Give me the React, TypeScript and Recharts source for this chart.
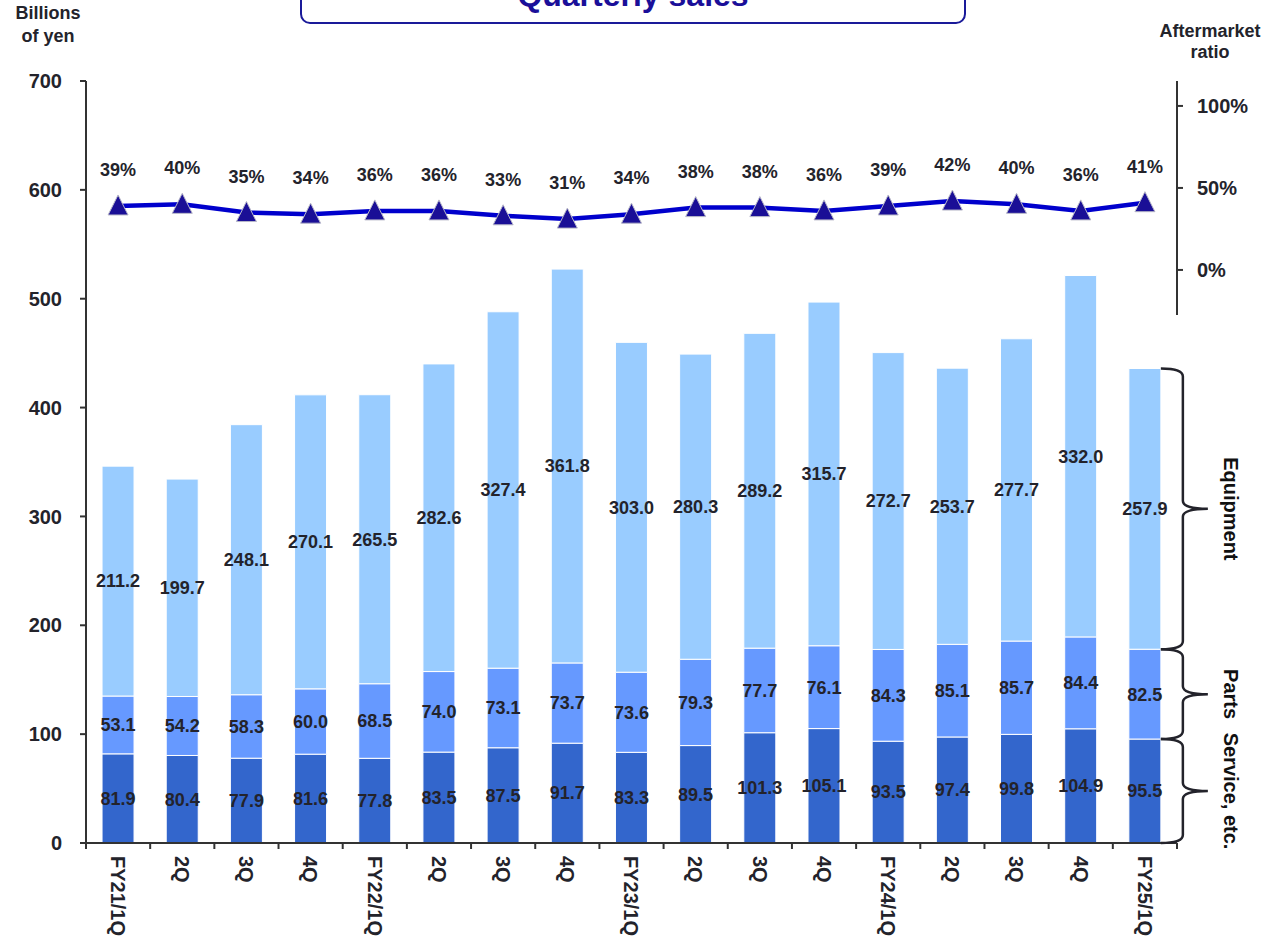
import React from "react";
import {
  ComposedChart,
  Bar,
  Line,
  XAxis,
  YAxis,
  LabelList,
} from "recharts";

const quarters = [
  "FY21/1Q", "2Q", "3Q", "4Q",
  "FY22/1Q", "2Q", "3Q", "4Q",
  "FY23/1Q", "2Q", "3Q", "4Q",
  "FY24/1Q", "2Q", "3Q", "4Q",
  "FY25/1Q",
];
const service = [81.9, 80.4, 77.9, 81.6, 77.8, 83.5, 87.5, 91.7, 83.3, 89.5, 101.3, 105.1, 93.5, 97.4, 99.8, 104.9, 95.5];
const parts = [53.1, 54.2, 58.3, 60.0, 68.5, 74.0, 73.1, 73.7, 73.6, 79.3, 77.7, 76.1, 84.3, 85.1, 85.7, 84.4, 82.5];
const equipment = [211.2, 199.7, 248.1, 270.1, 265.5, 282.6, 327.4, 361.8, 303.0, 280.3, 289.2, 315.7, 272.7, 253.7, 277.7, 332.0, 257.9];
const ratio = [39, 40, 35, 34, 36, 36, 33, 31, 34, 38, 38, 36, 39, 42, 40, 36, 41];

const leftTicks = [0, 100, 200, 300, 400, 500, 600, 700];
const rightTicks = [0, 50, 100];

const data = quarters.map((q, i) => ({
  q,
  service: service[i],
  parts: parts[i],
  equipment: equipment[i],
  ratio: ratio[i],
}));

const FONT = "'Liberation Sans', Arial, sans-serif";
const TXT = "#23232b";
const W = 1265;
const H = 947;
const PLOT_LEFT = 86;
const PLOT_RIGHT = 1177;
const BAND = (PLOT_RIGHT - PLOT_LEFT) / quarters.length;
const LAST = quarters.length - 1;

// rotated category label plus the boundary tick marks
const XTick = (props: any) => {
  const { x, y, payload, index } = props;
  return (
    <g>
      <line x1={x - BAND / 2} x2={x - BAND / 2} y1={y - 8} y2={y - 2} stroke="#333" strokeWidth={2} />
      {index === LAST && (
        <line x1={x + BAND / 2} x2={x + BAND / 2} y1={y - 8} y2={y - 2} stroke="#333" strokeWidth={2} />
      )}
      <text
        x={x}
        y={y + 5}
        transform={`rotate(90 ${x} ${y + 5})`}
        dy="0.36em"
        textAnchor="start"
        fontFamily={FONT}
        fontWeight="bold"
        fontSize={20}
        fill={TXT}
      >
        {payload.value}
      </text>
    </g>
  );
};

const Triangle = (props: any) => {
  const { cx, cy } = props;
  if (cx == null || cy == null) return null;
  return (
    <polygon
      points={`${cx},${cy - 11} ${cx - 10},${cy + 9} ${cx + 10},${cy + 9}`}
      fill="#1a0f96"
      stroke="#b8b8c8"
      strokeWidth={1}
    />
  );
};

const RatioLabel = (props: any) => {
  const { x, y, value } = props;
  return (
    <text x={x} y={y - 30} textAnchor="middle" fontFamily={FONT} fontWeight="bold" fontSize={18} fill={TXT}>
      {value}%
    </text>
  );
};

// curly brace next to the last bar segment with a rotated caption
const makeBrace = (caption: string) => (props: any) => {
  const { x, y, width, height, index } = props;
  if (index !== LAST) return null;
  const x0 = x + width;
  const x1 = x0 + 22;
  const x2 = x0 + 47;
  const y0 = y;
  const y1 = y + height;
  const ym = (y0 + y1) / 2;
  const r = 8;
  const d = `M${x0},${y0} Q${x1},${y0} ${x1},${y0 + r} L${x1},${ym - r} Q${x1},${ym} ${x2},${ym} Q${x1},${ym} ${x1},${ym + r} L${x1},${y1 - r} Q${x1},${y1} ${x0},${y1}`;
  const tx = x0 + 70;
  return (
    <g>
      <path d={d} fill="none" stroke="#23232b" strokeWidth={2.5} />
      <text
        x={tx}
        y={ym}
        transform={`rotate(90 ${tx} ${ym})`}
        dy="0.36em"
        textAnchor="middle"
        fontFamily={FONT}
        fontWeight="bold"
        fontSize={20}
        fill="#111"
      >
        {caption}
      </text>
    </g>
  );
};

const barLabel = {
  position: "center" as const,
  fill: TXT,
  fontSize: 18,
  fontWeight: "bold",
  fontFamily: FONT,
};

export default function App() {
  return (
    <div style={{ position: "absolute", left: 0, top: 0, width: W, height: H, background: "#fff", fontFamily: FONT }}>
      {/* title box, cut off at the top of the page */}
      <div
        style={{
          position: "absolute",
          left: 300,
          top: -24,
          width: 662,
          height: 44,
          border: "2px solid #1a1a99",
          borderRadius: 10,
        }}
      />
      <div
        style={{
          position: "absolute",
          left: 300,
          top: -21,
          width: 666,
          textAlign: "center",
          color: "#1a0f99",
          fontWeight: "bold",
          fontSize: 32,
          lineHeight: "32px",
          whiteSpace: "nowrap",
        }}
      >
        Quarterly sales
      </div>
      <div style={{ position: "absolute", left: 0, top: 2, width: 96, textAlign: "center", fontWeight: "bold", fontSize: 18, lineHeight: "23px", color: TXT }}>
        Billions
        <br />
        of yen
      </div>
      <div style={{ position: "absolute", left: 1145, top: 21, width: 130, textAlign: "center", fontWeight: "bold", fontSize: 18, lineHeight: "21px", color: TXT }}>
        Aftermarket
        <br />
        ratio
      </div>
      <ComposedChart
        width={W}
        height={H}
        data={data}
        margin={{ top: 81, right: 0, bottom: 0, left: 0 }}
        barCategoryGap="25%"
      >
        <XAxis
          dataKey="q"
          interval={0}
          height={104}
          tickLine={false}
          axisLine={{ stroke: "#333", strokeWidth: 2 }}
          tick={<XTick />}
        />
        <YAxis
          yAxisId="left"
          width={86}
          domain={[0, 700]}
          ticks={leftTicks}
          tickSize={6}
          tickMargin={18}
          axisLine={{ stroke: "#333", strokeWidth: 2 }}
          tickLine={{ stroke: "#333", strokeWidth: 2 }}
          tick={{ fill: TXT, fontSize: 20, fontWeight: "bold", fontFamily: FONT }}
        />
        <YAxis
          yAxisId="right"
          orientation="right"
          width={88}
          domain={[-349.4, 115.2]}
          ticks={rightTicks}
          tickFormatter={(v: number) => `${v}%`}
          tickSize={6}
          tickMargin={14}
          axisLine={{ stroke: "#333", strokeWidth: 2, strokeDasharray: "234 2000" }}
          tickLine={{ stroke: "#333", strokeWidth: 2 }}
          tick={{ fill: TXT, fontSize: 20, fontWeight: "bold", fontFamily: FONT, textAnchor: "start" }}
        />
        <Bar yAxisId="left" dataKey="service" stackId="s" fill="#3366cc" stroke="#ffffff" strokeWidth={1} isAnimationActive={false}>
          <LabelList dataKey="service" {...barLabel} formatter={(v: number) => v.toFixed(1)} />
          <LabelList dataKey="service" content={makeBrace("Service, etc.")} />
        </Bar>
        <Bar yAxisId="left" dataKey="parts" stackId="s" fill="#6699ff" stroke="#ffffff" strokeWidth={1} isAnimationActive={false}>
          <LabelList dataKey="parts" {...barLabel} formatter={(v: number) => v.toFixed(1)} />
          <LabelList dataKey="parts" content={makeBrace("Parts")} />
        </Bar>
        <Bar yAxisId="left" dataKey="equipment" stackId="s" fill="#99ccff" stroke="#ffffff" strokeWidth={1} isAnimationActive={false}>
          <LabelList dataKey="equipment" {...barLabel} formatter={(v: number) => v.toFixed(1)} />
          <LabelList dataKey="equipment" content={makeBrace("Equipment")} />
        </Bar>
        <Line
          yAxisId="right"
          dataKey="ratio"
          stroke="#0000cc"
          strokeWidth={4.5}
          dot={<Triangle />}
          activeDot={false}
          isAnimationActive={false}
        >
          <LabelList dataKey="ratio" content={<RatioLabel />} />
        </Line>
      </ComposedChart>
    </div>
  );
}
